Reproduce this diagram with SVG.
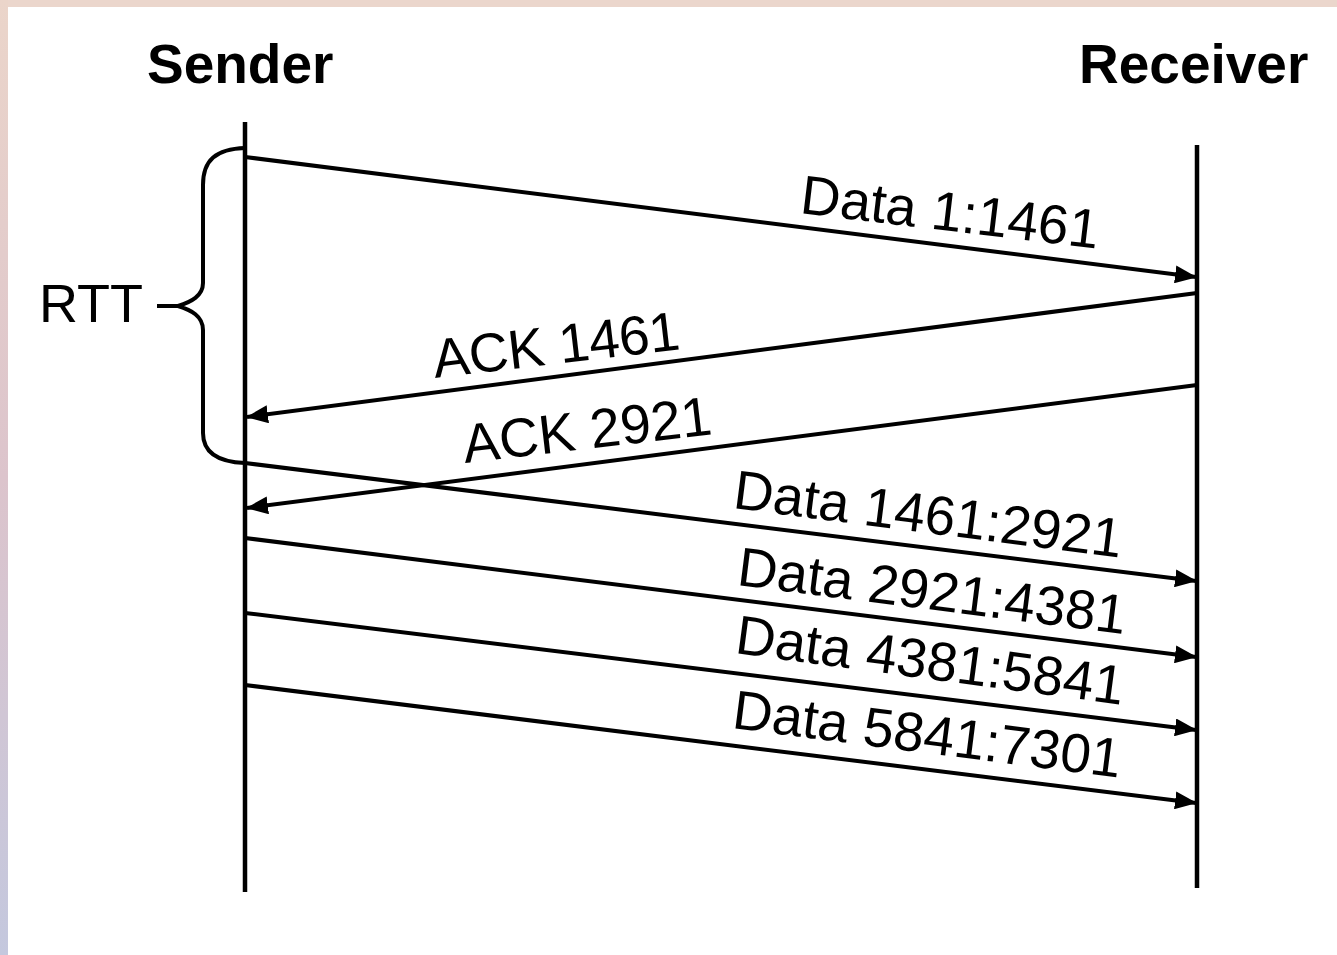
<svg xmlns="http://www.w3.org/2000/svg" width="1337" height="955" viewBox="0 0 1337 955">
<defs>
<linearGradient id="lg" x1="0" y1="0" x2="0" y2="1">
<stop offset="0" stop-color="#ebd5ca"/>
<stop offset="0.5" stop-color="#dcc4cc"/>
<stop offset="1" stop-color="#c4c8de"/>
</linearGradient>
<marker id="ah" viewBox="0 0 22 18" refX="21" refY="9" markerWidth="22" markerHeight="18" markerUnits="userSpaceOnUse" orient="auto">
<path d="M0,0 L22,9 L0,18 Z" fill="#000"/>
</marker>
<style>
.life{stroke:#000;stroke-width:4.5;fill:none}
.msg{stroke:#000;stroke-width:4;fill:none;marker-end:url(#ah)}
.brace{stroke:#000;stroke-width:4;fill:none}
.hdr{font-family:"Liberation Sans",Arial,sans-serif;font-weight:bold;font-size:55px;fill:#000}
.lbl{font-family:"Liberation Sans",Arial,sans-serif;font-size:55px;fill:#000}
</style>
</defs>
<rect x="0" y="0" width="1337" height="955" fill="#fff"/>
<rect x="0" y="0" width="1337" height="7" fill="#ebd6cc"/>
<rect x="0" y="0" width="8" height="955" fill="url(#lg)"/>

<g id="sender">
<text class="hdr" x="147" y="83">Sender</text>
<line class="life" x1="245" y1="122" x2="245" y2="892"/>
</g>
<g id="receiver">
<text class="hdr" x="1079" y="83">Receiver</text>
<line class="life" x1="1197" y1="145" x2="1197" y2="888"/>
</g>
<g id="rtt">
<text class="lbl" x="39" y="322" style="font-size:54px">RTT</text>
<path class="brace" d="M245,148 C216,149 203,160 203,185 L203,283 C203,296 191,302 178,306 C191,310 203,316 203,330 L203,433 C203,453 218,462 245,463"/>
<line class="brace" x1="157" y1="306" x2="180" y2="306"/>
</g>

<g id="connectors">
<line class="msg" x1="245" y1="157" x2="1196" y2="277"/>
<line class="msg" x1="1197" y1="293" x2="247" y2="417"/>
<line class="msg" x1="1197" y1="385" x2="247" y2="508"/>
<line class="msg" x1="245" y1="463" x2="1196" y2="581"/>
<line class="msg" x1="245" y1="538" x2="1196" y2="657"/>
<line class="msg" x1="245" y1="613" x2="1196" y2="730"/>
<line class="msg" x1="245" y1="685" x2="1196" y2="803"/>
</g>

<g id="labels">
<text class="lbl" transform="translate(799,213) rotate(6.8)" textLength="300" lengthAdjust="spacing">Data 1:1461</text>
<text class="lbl" transform="translate(435,378) rotate(-6.65)" textLength="248" lengthAdjust="spacing">ACK 1461</text>
<text class="lbl" transform="translate(465,463) rotate(-6.6)" textLength="250" lengthAdjust="spacing">ACK 2921</text>
<text class="lbl" transform="translate(732,508) rotate(7.3)" textLength="391" lengthAdjust="spacing">Data 1461:2921</text>
<text class="lbl" transform="translate(736,585) rotate(7.2)" textLength="391" lengthAdjust="spacing">Data 2921:4381</text>
<text class="lbl" transform="translate(734,653) rotate(7.6)" textLength="391" lengthAdjust="spacing">Data 4381:5841</text>
<text class="lbl" transform="translate(731,728) rotate(7.3)" textLength="391" lengthAdjust="spacing">Data 5841:7301</text>
</g>
</svg>
